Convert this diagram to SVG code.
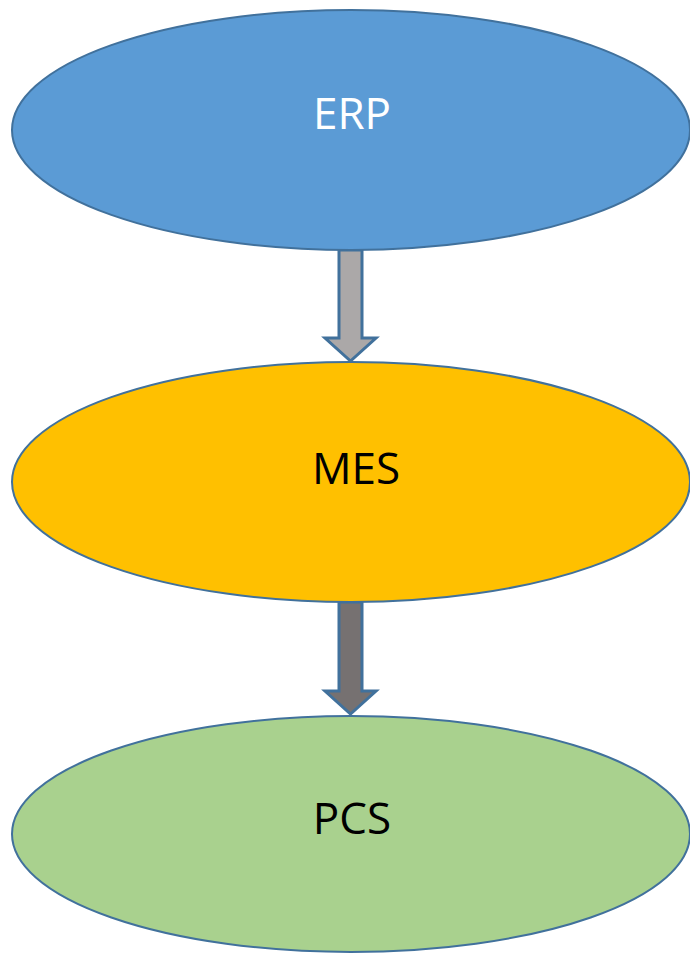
<svg xmlns="http://www.w3.org/2000/svg" width="690" height="954" viewBox="0 0 690 954">
  <style>
    .node { stroke: #41719C; stroke-width: 2; }
    .label { font-family: "Open Sans", "Noto Sans", "Liberation Sans", sans-serif; font-size: 44px; text-anchor: middle; }
    .arrow { stroke: #41719C; stroke-width: 3; stroke-linejoin: miter; }
  </style>
  <rect width="690" height="954" fill="#ffffff"/>

  <g id="connectors">
    <!-- ERP to MES block arrow -->
    <path class="arrow" fill="#ABA8A8" d="M339,250 L362,250 L362,338 L376,338 L350.5,361 L325,338 L339,338 Z"/>
    <!-- MES to PCS block arrow -->
    <path class="arrow" fill="#767171" d="M339,602 L362,602 L362,691 L376,691 L350.5,714 L325,691 L339,691 Z"/>
  </g>

  <g id="erp">
    <ellipse class="node" cx="351" cy="130" rx="339" ry="120" fill="#5B9BD5"/>
    <text class="label" x="352" y="129" fill="#ffffff">ERP</text>
  </g>

  <g id="mes">
    <ellipse class="node" cx="351" cy="482" rx="339" ry="120" fill="#FFC000"/>
    <text class="label" x="356" y="484" fill="#000000">MES</text>
  </g>

  <g id="pcs">
    <ellipse class="node" cx="351" cy="834" rx="339" ry="118" fill="#A9D18E"/>
    <text class="label" x="352" y="834" fill="#000000">PCS</text>
  </g>
</svg>
